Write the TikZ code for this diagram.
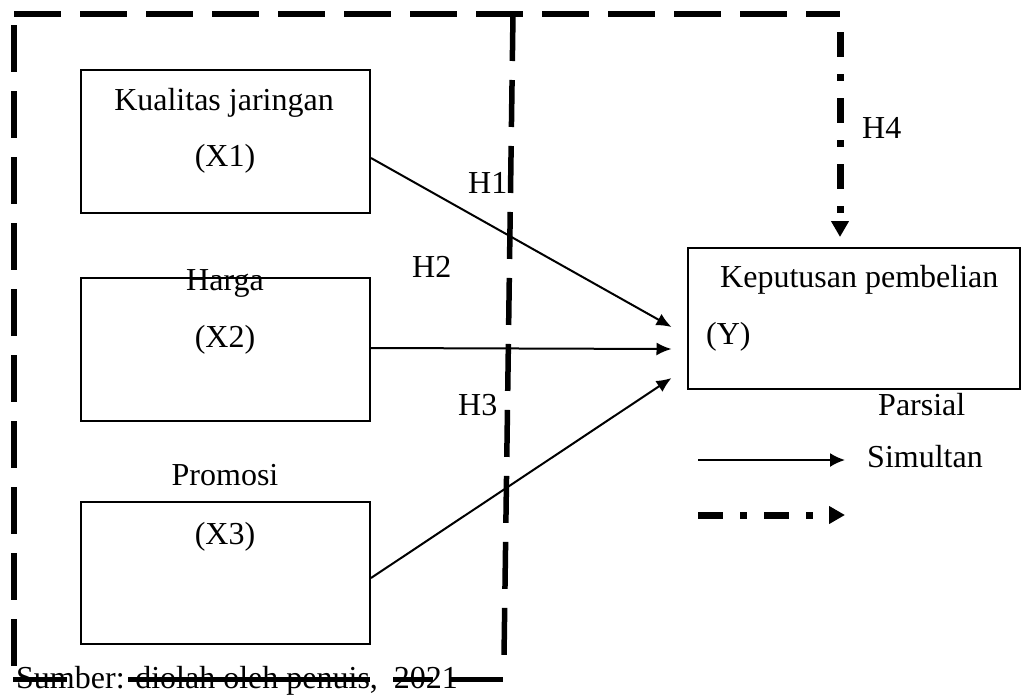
\documentclass[tikz,border=0pt]{standalone}
\usepackage{fontspec}
\setmainfont{Liberation Serif}
\usetikzlibrary{arrows.meta}
\begin{document}
\begin{tikzpicture}[x=1pt,y=-1pt,
  lbl/.style={inner sep=0pt,anchor=base,font=\fontsize{32}{38}\selectfont},
  lblw/.style={lbl,anchor=base west},
  varbox/.style={draw,line width=2pt,rectangle,inner sep=0pt},
  frame/.style={line width=5.5pt,dash pattern=on 47pt off 19pt},
  partial/.style={line width=2pt,-{Latex[length=15pt,width=13pt]}},
  jointly/.style={line width=7pt,dash pattern=on 25pt off 17pt on 7pt off 17pt,
    -{Triangle[length=16pt,width=17pt]}}]
\useasboundingbox (0,0) rectangle (1022,694);

% independent variables
\node[varbox,minimum width=289pt,minimum height=143pt] (x1) at (225.5,141.5) {};
\node[varbox,minimum width=289pt,minimum height=143pt] (x2) at (225.5,349.5) {};
\node[varbox,minimum width=289pt,minimum height=142pt] (x3) at (225.5,573) {};
% dependent variable
\node[varbox,minimum width=332pt,minimum height=141pt] (y) at (853.5,318.5) {};

\node[lbl] (t1) at (224,110) {Kualitas jaringan};
\node[lbl] (t1b) at (225,166) {(X1)};
\node[lbl] (t2) at (225,290) {Harga};
\node[lbl] (t2b) at (225,347) {(X2)};
\node[lbl] (t3) at (225,485) {Promosi};
\node[lbl] (t3b) at (225,544) {(X3)};
\node[lblw] (ty) at (720,287) {Keputusan pembelian};
\node[lblw] (tyb) at (706,344) {(Y)};

% hypothesis labels
\node[lblw] (h1) at (468,193) {H1};
\node[lblw] (h2) at (412,277) {H2};
\node[lblw] (h3) at (458,415) {H3};
\node[lblw] (h4) at (862,138) {H4};

% partial effects
\draw[partial] ([yshift=-16.5pt]x1.east) -- ([xshift=-15pt,yshift=-8.5pt]y.west);
\draw[partial] ([yshift=1.5pt]x2.east) -- ([xshift=-15pt,yshift=-30.5pt]y.west);
\draw[partial] ([yshift=-5pt]x3.east) -- ([xshift=-15pt,yshift=-59.5pt]y.west);

% simultaneous effect frame
\coordinate (tl) at (14,14);
\coordinate (tr) at (840,14);
\coordinate (ml) at (513,14);
\coordinate (mb) at (504,657);
\coordinate (lt) at (14,25);
\coordinate (lb) at (14,667);
\draw[frame] (tl) -- (tr);
\draw[frame] (lt) -- (lb);
\draw[frame] (ml) -- (mb);
\coordinate (h4s) at (840,32);
\draw[jointly,shorten >=10pt] (h4s) -- (h4s |- y.north);

% legend
\node[lblw] (lp) at (878,415) {Parsial};
\node[lblw] (ls) at (867,467) {Simultan};
\coordinate (la1) at (698,460);
\coordinate (lb1) at (845,460);
\coordinate (la2) at (698,515);
\coordinate (lb2) at (845,515);
\draw[line width=2pt,-{Latex[length=15pt,width=14pt]}] (la1) -- (lb1);
\draw[jointly] (la2) -- (lb2);

% source note, with the lower edge of the frame running through it
\node[lblw] (src) at (16,688) {Sumber: diolah oleh penuis,\hspace{16pt}2021};
\coordinate (bl) at (13,679);
\coordinate (br) at (503,679);
\draw[line width=5pt,dash pattern=on 54pt off 61pt on 242pt off 23pt on 40pt off 17pt on 53pt] (bl) -- (br);
\end{tikzpicture}
\end{document}
